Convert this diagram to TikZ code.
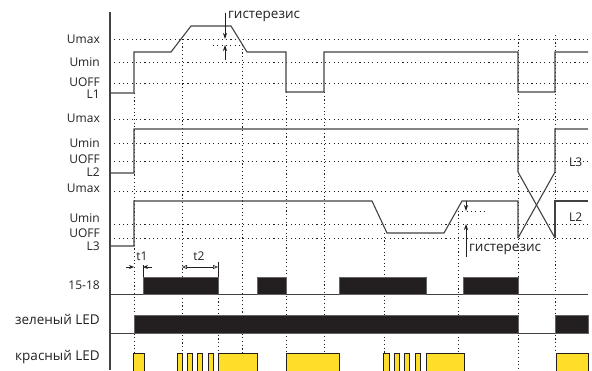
\documentclass[tikz,border=0pt]{standalone}
\usepackage{fontspec}
\setmainfont{Open Sans}
\usetikzlibrary{arrows.meta}
\definecolor{ink}{HTML}{231F20}
\definecolor{ledyellow}{HTML}{FFDE2A}
\tikzset{
  sig/.style={draw=ink!85, line width=1.1pt, line join=miter},
  grid/.style={draw=ink, line width=0.9pt, dash pattern=on 1.1pt off 3.2pt},
  vgrid/.style={draw=ink, line width=0.9pt, dash pattern=on 1.1pt off 2.6pt},
  lbl/.style={inner sep=0pt, text=ink, font=\fontsize{12}{13}\selectfont},
  cyr/.style={inner sep=0pt, text=ink, font=\fontsize{13.5}{14}\selectfont},
  bar/.style={fill=ink, draw=ink!70, line width=0.6pt},
  ybar/.style={fill=ledyellow, draw=ink, line width=0.8pt},
  dim/.style={draw=ink, line width=0.7pt},
}
\begin{document}
\begin{tikzpicture}[x=1pt, y=-1pt]
\useasboundingbox (0,0) rectangle (592,370);
% horizontal dotted levels
\foreach \yy in {39,62,83,119,143,161,191,224,238}
  \draw[grid] (110,\yy) -- (590,\yy);
% hysteresis dotted levels
\draw[grid] (213,45) -- (242,45);
\draw[grid] (458,211) -- (486,211);
% vertical dotted lines
\draw[vgrid] (134,93) -- (134,353);
\draw[vgrid] (182,39) -- (182,353);
\draw[vgrid] (218,294) -- (218,353);
\draw[vgrid] (242,45) -- (242,353);
\draw[vgrid] (286,92) -- (286,353);
\draw[vgrid] (324,92) -- (324,353);
\draw[vgrid] (384,233) -- (384,353);
\draw[vgrid] (458,207) -- (458,353);
\draw[vgrid] (518,35) -- (518,370);
\draw[vgrid] (555,35) -- (555,353);
% axis
\draw[draw=ink!85, line width=1.1pt] (110,12) -- (110,370);
% L1 signal
\draw[sig] (110,93) -- (134,93) -- (134,52) -- (171,52) -- (191,26) -- (231,26) -- (247,52) -- (286,52) -- (286,92) -- (324,92) -- (324,52) -- (518,52) -- (518,92) -- (555,92) -- (555,52) -- (588,52);
% L2 signal
\draw[sig] (110,173) -- (134,173) -- (134,129) -- (518,129) -- (518,172) -- (555,238);
\draw[sig] (518,238) -- (555,172) -- (555,129) -- (588,129);
% L3 signal
\draw[sig] (110,246) -- (134,246) -- (134,201) -- (372,201) -- (387,233) -- (444,233) -- (462,201) -- (518,201) -- (518,238);
\draw[sig] (555,238) -- (555,201) -- (588,201);
% hysteresis arrows
\draw[dim, -{Stealth[length=6pt,width=4pt]}] (225,13) -- (225,39);
\draw[dim, -{Stealth[length=6pt,width=4pt]}] (225,60) -- (225,45);
\draw[dim, -{Stealth[length=6pt,width=4pt]}] (466,201) -- (466,211);
\draw[dim, -{Stealth[length=6pt,width=4pt]}] (466,257) -- (466,224);
\node[cyr, anchor=west] (h1) at (228,16) {гистерезис};
\node[cyr, anchor=west] (h3) at (469,249) {гистерезис};
% relay 15-18
\draw[sig, line width=0.8pt] (110,294) -- (143,294);
\draw[bar] (143,277) rectangle (218,294);
\draw[sig, line width=0.8pt] (218,294) -- (257,294);
\draw[bar] (257,277) rectangle (286,294);
\draw[sig, line width=0.8pt] (286,294) -- (339,294);
\draw[bar] (339,277) rectangle (426,294);
\draw[sig, line width=0.8pt] (426,294) -- (463,294);
\draw[bar] (463,277) rectangle (518,294);
\draw[sig, line width=0.8pt] (518,294) -- (588,294);
% t1, t2
\draw[dim] (143,265) -- (143,277);
\draw[dim, -{Stealth[length=5pt,width=4pt]}] (126,267) -- (134,267);
\draw[dim, -{Stealth[length=5pt,width=4pt]}] (152,267) -- (143,267);
\draw[dim] (218,262) -- (218,277);
\draw[dim, {Triangle[open,length=5pt,width=4pt]}-{Triangle[open,length=5pt,width=4pt]}] (182,267) -- (218,267);
\node[lbl] (t1) at (142,256) {t1};
\node[lbl] (t2) at (199,256) {t2};
% green LED
\draw[sig, line width=0.8pt] (110,333) -- (134,333);
\draw[bar] (134,315) rectangle (518,333);
\draw[sig, line width=0.8pt] (518,333) -- (555,333);
\draw[bar] (555,315) rectangle (588,333);
% red LED
\foreach \a/\b in {133/144,177/182,187/192,197/202,208/213,218/257,286/339,383/389,394/399,404/409,415/420,426/464,556/588}
  \draw[ybar] (\a,371) -- (\a,353) -- (\b,353) -- (\b,371);
% left labels
\node[lbl, anchor=east] (umax1) at (100,39) {Umax};
\node[lbl, anchor=east] (umin1) at (100,62) {Umin};
\node[lbl, anchor=east] (uoff1) at (100,82) {UOFF};
\node[lbl, anchor=east] (l1) at (100,94) {L1};
\node[lbl, anchor=east] (umax2) at (100,118) {Umax};
\node[lbl, anchor=east] (umin2) at (100,143) {Umin};
\node[lbl, anchor=east] (uoff2) at (100,159) {UOFF};
\node[lbl, anchor=east] (l2) at (100,172) {L2};
\node[lbl, anchor=east] (umax3) at (100,188) {Umax};
\node[lbl, anchor=east] (umin3) at (100,218) {Umin};
\node[lbl, anchor=east] (uoff3) at (100,233) {UOFF};
\node[lbl, anchor=east] (l3) at (100,246) {L3};
\node[lbl, anchor=east] (r1518) at (100,285) {15-18};
\node[cyr, anchor=east] (green) at (100,319) {зеленый LED};
\node[cyr, anchor=east] (red) at (100,357) {красный LED};
% right labels
\node[lbl, anchor=west] (rl3) at (569,162) {L3};
\node[lbl, anchor=west] (rl2) at (569,217) {L2};
\end{tikzpicture}
\end{document}
